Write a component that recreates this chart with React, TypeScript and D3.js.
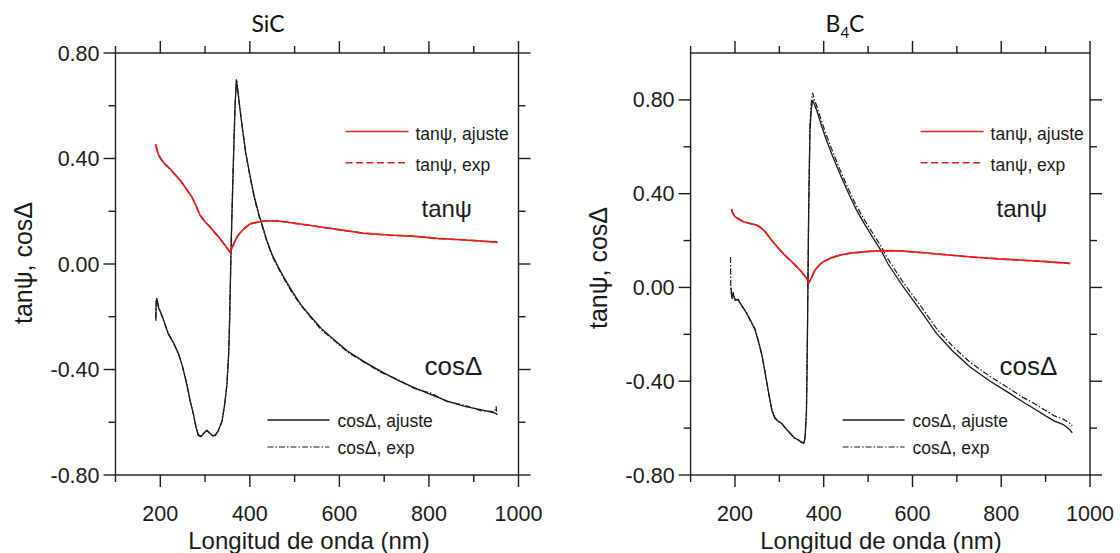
import React from 'react';
import * as d3 from 'd3';

type Pt = [number, number];

// ---- SiC (left panel) ----
const sicTanFit: Pt[] = [
  [190, 0.455], [193, 0.43], [197, 0.41], [203, 0.395], [212, 0.375], [222, 0.361], [235, 0.335],
  [248, 0.31], [260, 0.28], [271, 0.253], [280, 0.22], [289, 0.184], [300, 0.16], [312, 0.139],
  [323, 0.117], [334, 0.095], [345, 0.07], [356, 0.044], [360, 0.06], [365, 0.08], [372, 0.105],
  [383, 0.127], [392, 0.142], [401, 0.152], [415, 0.158], [431, 0.162], [446, 0.164], [461, 0.163],
  [500, 0.155], [535, 0.146], [600, 0.13], [655, 0.116], [710, 0.11], [767, 0.105], [820, 0.097],
  [879, 0.091], [920, 0.087], [953, 0.082],
];
const sicTanExp: Pt[] = [
  [190, 0.45], [193, 0.432], [197, 0.412], [203, 0.393], [212, 0.377], [222, 0.36], [235, 0.336],
  [248, 0.309], [260, 0.281], [271, 0.252], [280, 0.221], [289, 0.185], [300, 0.159], [312, 0.14],
  [323, 0.116], [334, 0.096], [345, 0.069], [356, 0.045], [360, 0.061], [365, 0.081], [372, 0.104],
  [383, 0.128], [392, 0.141], [401, 0.153], [415, 0.157], [431, 0.163], [446, 0.163], [461, 0.164],
  [500, 0.154], [535, 0.147], [600, 0.129], [655, 0.117], [710, 0.109], [767, 0.106], [820, 0.096],
  [879, 0.092], [920, 0.086], [953, 0.083],
];
const sicCosFit: Pt[] = [
  [190, -0.215], [191, -0.14], [193, -0.135], [196, -0.165], [205, -0.2], [218, -0.266], [230, -0.3],
  [241, -0.342], [250, -0.39], [259, -0.456], [267, -0.52], [274, -0.57], [280, -0.62], [285, -0.65],
  [291, -0.655], [298, -0.64], [304, -0.632], [310, -0.64], [317, -0.652], [323, -0.65], [330, -0.63],
  [338, -0.596], [344, -0.53], [349, -0.456], [353, -0.33], [355, -0.203], [358, 0.05], [361, 0.25],
  [364, 0.43], [367, 0.6], [370, 0.697], [373, 0.66], [377, 0.6], [383, 0.519], [391, 0.42],
  [401, 0.329], [410, 0.255], [420, 0.19], [430, 0.135], [438, 0.089], [450, 0.035], [463, -0.01],
  [476, -0.051], [495, -0.105], [513, -0.152], [535, -0.197], [560, -0.245], [590, -0.29],
  [618, -0.33], [655, -0.37], [692, -0.406], [730, -0.44], [767, -0.469], [805, -0.495],
  [841, -0.52], [880, -0.54], [915, -0.552], [946, -0.564], [952, -0.57],
];
const sicCosExp: Pt[] = [
  [190, -0.205], [191, -0.13], [193, -0.14], [196, -0.16], [205, -0.205], [218, -0.262], [230, -0.303],
  [241, -0.34], [250, -0.392], [259, -0.452], [267, -0.522], [274, -0.568], [280, -0.622], [285, -0.648],
  [291, -0.652], [298, -0.642], [304, -0.63], [310, -0.642], [317, -0.65], [323, -0.648], [330, -0.632],
  [338, -0.594], [344, -0.532], [349, -0.452], [353, -0.33], [355, -0.2], [358, 0.05], [361, 0.25],
  [364, 0.43], [367, 0.6], [370, 0.7], [373, 0.662], [377, 0.604], [383, 0.522], [391, 0.418],
  [401, 0.325], [410, 0.25], [420, 0.184], [430, 0.13], [438, 0.085], [450, 0.03], [463, -0.014],
  [476, -0.055], [495, -0.11], [513, -0.155], [535, -0.2], [560, -0.25], [590, -0.292],
  [618, -0.334], [655, -0.372], [692, -0.41], [730, -0.438], [767, -0.472], [805, -0.49],
  [841, -0.522], [880, -0.536], [915, -0.556], [946, -0.56], [950, -0.54], [952, -0.572],
];

// ---- B4C (right panel) ----
const b4cTanFit: Pt[] = [
  [192, 0.335], [194, 0.32], [200, 0.302], [210, 0.29], [219, 0.28], [235, 0.272], [249, 0.266],
  [258, 0.255], [268, 0.238], [283, 0.2], [298, 0.167], [311, 0.14], [324, 0.117], [337, 0.092],
  [350, 0.067], [360, 0.042], [367, 0.022], [372, 0.04], [380, 0.074], [390, 0.095], [399, 0.11],
  [417, 0.126], [436, 0.138], [460, 0.146], [489, 0.152], [520, 0.156], [549, 0.157], [580, 0.155],
  [616, 0.15], [670, 0.14], [729, 0.131], [790, 0.122], [842, 0.117], [900, 0.11], [955, 0.103],
];
const b4cTanExp: Pt[] = [
  [192, 0.333], [194, 0.322], [200, 0.3], [210, 0.291], [219, 0.279], [235, 0.273], [249, 0.265],
  [258, 0.256], [268, 0.237], [283, 0.201], [298, 0.166], [311, 0.141], [324, 0.116], [337, 0.093],
  [350, 0.066], [360, 0.043], [367, 0.023], [372, 0.041], [380, 0.073], [390, 0.096], [399, 0.109],
  [417, 0.127], [436, 0.137], [460, 0.147], [489, 0.151], [520, 0.157], [549, 0.156], [580, 0.155],
  [616, 0.149], [670, 0.141], [729, 0.13], [790, 0.123], [842, 0.116], [900, 0.111], [955, 0.102],
];
const b4cCosFit: Pt[] = [
  [191, 0.0], [193, -0.04], [196, -0.03], [200, -0.05], [207, -0.054], [215, -0.075], [226, -0.11],
  [235, -0.14], [245, -0.18], [256, -0.253], [262, -0.3], [268, -0.366], [275, -0.44], [283, -0.523],
  [290, -0.558], [297, -0.57], [305, -0.58], [314, -0.6], [324, -0.622], [333, -0.64], [343, -0.651],
  [350, -0.66], [355, -0.665], [358, -0.64], [361, -0.537], [363, -0.253], [366, 0.316], [369, 0.672],
  [372, 0.76], [375, 0.8], [379, 0.78], [384, 0.757], [395, 0.69], [406, 0.629], [420, 0.56],
  [436, 0.487], [455, 0.405], [474, 0.33], [492, 0.27], [515, 0.2], [531, 0.152], [545, 0.1],
  [579, 0.003], [615, -0.09], [654, -0.196], [690, -0.27], [729, -0.338], [775, -0.4], [819, -0.452],
  [850, -0.49], [879, -0.523], [900, -0.548], [920, -0.57], [940, -0.585], [955, -0.608], [960, -0.62],
];
const b4cCosExp: Pt[] = [
  [190, 0.13], [190.5, 0.0], [192, -0.03], [194, -0.05], [196, -0.02], [200, -0.055], [207, -0.05],
  [215, -0.08], [226, -0.105], [235, -0.145], [245, -0.175], [256, -0.25], [262, -0.305], [268, -0.36],
  [275, -0.445], [283, -0.52], [290, -0.555], [297, -0.572], [305, -0.578], [314, -0.602], [324, -0.62],
  [333, -0.642], [343, -0.65], [350, -0.662], [355, -0.663], [358, -0.64], [361, -0.53], [363, -0.25],
  [366, 0.32], [369, 0.7], [372, 0.79], [375, 0.83], [379, 0.8], [384, 0.775], [395, 0.71],
  [406, 0.65], [420, 0.58], [436, 0.505], [455, 0.422], [474, 0.347], [492, 0.287], [515, 0.218],
  [531, 0.17], [545, 0.12], [579, 0.022], [615, -0.07], [654, -0.175], [690, -0.25], [729, -0.318],
  [775, -0.38], [819, -0.432], [850, -0.47], [879, -0.5], [900, -0.525], [920, -0.548], [940, -0.562],
  [955, -0.58], [960, -0.59],
];

const xMajor = [200, 400, 600, 800, 1000];
const xMinor = [100, 300, 500, 700, 900];
const yMajor = [-0.8, -0.4, 0, 0.4, 0.8];
const yMinor = [-0.6, -0.2, 0.2, 0.6];

const RED = '#e5201c';
const INK = '#1a1a1a';
const FONT = '"Liberation Sans", Arial, sans-serif';
const TOP = 53;
const BOTTOM = 475;
const MAJ = 12;
const MIN = 7;

const fmtY = (v: number) => d3.format('.2f')(v).replace('\u2212', '-');

interface PanelProps {
  left: number;
  right: number;
  yDomain: [number, number];
  title: React.ReactNode;
  titleX: number;
  xTitleX: number;
  yTitleX: number;
  yTitleY: number;
  tanFit: Pt[];
  tanExp: Pt[];
  cosFit: Pt[];
  cosExp: Pt[];
}

function Panel(p: PanelProps) {
  const x = d3.scaleLinear().domain([100, 1000]).range([p.left, p.right]);
  const y = d3.scaleLinear().domain(p.yDomain).range([BOTTOM, TOP]);
  const line = d3.line<Pt>().x((d) => x(d[0])).y((d) => y(d[1]));
  const L = p.left;
  const tickText = { fontFamily: FONT, fontSize: 21.5, fill: INK };
  return (
    <g>
      <text x={p.titleX} y={32} textAnchor="middle" fontFamily="Lato, 'Noto Sans', sans-serif" fontSize={23} fill="#111">
        {p.title}
      </text>
      <rect x={p.left} y={TOP} width={p.right - p.left} height={BOTTOM - TOP} fill="none" stroke={INK} strokeWidth={1.4} />
      {xMajor.map((v) => (
        <g key={'xM' + v}>
          <line x1={x(v)} x2={x(v)} y1={BOTTOM} y2={BOTTOM + MAJ} stroke={INK} strokeWidth={1.4} />
          <line x1={x(v)} x2={x(v)} y1={TOP} y2={TOP - MAJ} stroke={INK} strokeWidth={1.4} />
          <text x={x(v)} y={BOTTOM + 46} textAnchor="middle" {...tickText}>{v}</text>
        </g>
      ))}
      {xMinor.map((v) => (
        <g key={'xm' + v}>
          <line x1={x(v)} x2={x(v)} y1={BOTTOM} y2={BOTTOM + MIN} stroke={INK} strokeWidth={1.4} />
          <line x1={x(v)} x2={x(v)} y1={TOP} y2={TOP - MIN} stroke={INK} strokeWidth={1.4} />
        </g>
      ))}
      {yMajor.map((v) => (
        <g key={'yM' + v}>
          <line x1={p.left} x2={p.left - MAJ} y1={y(v)} y2={y(v)} stroke={INK} strokeWidth={1.4} />
          <line x1={p.right} x2={p.right + MAJ} y1={y(v)} y2={y(v)} stroke={INK} strokeWidth={1.4} />
          <text x={p.left - 16} y={y(v) + 7.5} textAnchor="end" {...tickText}>{fmtY(v)}</text>
        </g>
      ))}
      {yMinor.map((v) => (
        <g key={'ym' + v}>
          <line x1={p.left} x2={p.left - MIN} y1={y(v)} y2={y(v)} stroke={INK} strokeWidth={1.4} />
          <line x1={p.right} x2={p.right + MIN} y1={y(v)} y2={y(v)} stroke={INK} strokeWidth={1.4} />
        </g>
      ))}
      <text x={p.xTitleX} y={549} textAnchor="middle" fontFamily={FONT} fontSize={24} fill={INK}>
        Longitud de onda (nm)
      </text>
      <text transform={`translate(${p.yTitleX},${p.yTitleY}) rotate(-90)`} textAnchor="middle" fontFamily={FONT} fontSize={25} fill={INK}>
        tanψ, cosΔ
      </text>
      <path d={line(p.cosFit) || ''} fill="none" stroke={INK} strokeWidth={1.3} />
      <path d={line(p.cosExp) || ''} fill="none" stroke={INK} strokeWidth={1.2} strokeDasharray="6,2,1.5,2" />
      <path d={line(p.tanFit) || ''} fill="none" stroke={RED} strokeWidth={1.7} />
      <path d={line(p.tanExp) || ''} fill="none" stroke={RED} strokeWidth={1.5} strokeDasharray="7,3.5" />
      <line x1={L + 230} x2={L + 293} y1={131.5} y2={131.5} stroke={RED} strokeWidth={1.7} />
      <text x={L + 300} y={140} fontFamily={FONT} fontSize={17.5} fill={INK}>tanψ, ajuste</text>
      <line x1={L + 230} x2={L + 293} y1={162.7} y2={162.7} stroke={RED} strokeWidth={1.5} strokeDasharray="7,3.5" />
      <text x={L + 300} y={171} fontFamily={FONT} fontSize={17.5} fill={INK}>tanψ, exp</text>
      <text x={L + 306} y={217} fontFamily={FONT} fontSize={24} fill={INK}>tanψ</text>
      <text x={L + 309} y={375} fontFamily={FONT} fontSize={26} fill={INK}>cosΔ</text>
      <line x1={L + 152} x2={L + 214} y1={420} y2={420} stroke={INK} strokeWidth={1.3} />
      <text x={L + 222} y={427} fontFamily={FONT} fontSize={17.5} fill={INK}>cosΔ, ajuste</text>
      <line x1={L + 152} x2={L + 214} y1={447} y2={447} stroke={INK} strokeWidth={1.2} strokeDasharray="6,2,1.5,2" />
      <text x={L + 222} y={454} fontFamily={FONT} fontSize={17.5} fill={INK}>cosΔ, exp</text>
    </g>
  );
}

export default function App() {
  return (
    <svg width={1120} height={553} style={{ position: 'absolute', left: 0, top: 0, background: '#fff' }}>
      <rect width={1120} height={553} fill="#fff" />
      <Panel
        left={115.5}
        right={518.5}
        yDomain={[-0.8, 0.8]}
        title="SiC"
        titleX={268}
        xTitleX={309}
        yTitleX={32}
        yTitleY={263}
        tanFit={sicTanFit}
        tanExp={sicTanExp}
        cosFit={sicCosFit}
        cosExp={sicCosExp}
      />
      <Panel
        left={690.6}
        right={1090}
        yDomain={[-0.8, 1.0]}
        title={<>B<tspan dy={6} fontSize={15}>4</tspan><tspan dy={-6}>C</tspan></>}
        titleX={845}
        xTitleX={881}
        yTitleX={607}
        yTitleY={268}
        tanFit={b4cTanFit}
        tanExp={b4cTanExp}
        cosFit={b4cCosFit}
        cosExp={b4cCosExp}
      />
    </svg>
  );
}
